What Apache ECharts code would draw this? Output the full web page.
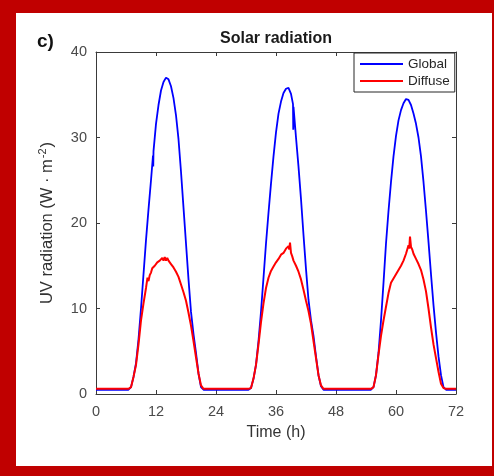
<!DOCTYPE html>
<html>
<head>
<meta charset="utf-8">
<script src="https://cdn.jsdelivr.net/npm/echarts@6/dist/echarts.min.js"></script>
<style>
  html, body { margin: 0; padding: 0; background: #ffffff; }
  #chart { width: 494px; height: 476px; }
</style>
</head>
<body>
<div id="chart"></div>
<script>
// Tick values for both axes
const timeTicks = [0, 12, 24, 36, 48, 60, 72];
const uvTicks = [0, 10, 20, 30, 40];

// Global UV radiation, [time (h), W·m-2]
const globalUV = [
  [0,0.5],[1,0.5],[2,0.5],[3,0.5],[4,0.5],[5,0.5],[6,0.5],[6.5,0.5],
  [7,0.8],[7.5,2.0],[8,3.6],[8.5,6.4],[9,10.0],[9.5,14.0],[10,18.0],[10.5,21.6],
  [11,25.0],[11.4,27.9],[11.45,26.6],[11.5,28.4],[12,31.6],[12.5,33.8],[13,35.5],
  [13.5,36.5],[14,37.0],[14.5,36.8],[15,36.0],[15.5,34.6],[16,32.6],[16.5,29.8],
  [17,26.0],[17.5,21.8],[18,17.6],[18.5,13.4],[19,9.6],[19.5,7.0],[20,4.8],
  [20.5,2.4],[21,0.8],[21.5,0.5],
  [22,0.5],[23,0.5],[24,0.5],[25,0.5],[26,0.5],[27,0.5],[28,0.5],[29,0.5],[30,0.5],[30.5,0.5],
  [31,0.7],[31.5,1.8],[32,3.4],[32.5,6.2],[33,9.6],[33.5,13.6],[34,17.6],[34.5,21.2],
  [35,24.6],[35.5,27.8],[36,30.6],[36.5,32.8],[37,34.2],[37.5,35.2],[38,35.7],
  [38.5,35.8],[39,35.1],[39.4,33.9],[39.45,30.9],[39.5,33.6],[40,30.0],[40.5,26.6],
  [41,22.8],[41.5,18.6],[42,14.6],[42.5,11.0],[43,8.6],[43.5,6.8],[44,4.4],
  [44.5,2.2],[45,0.9],[45.5,0.5],
  [46,0.5],[47,0.5],[48,0.5],[49,0.5],[50,0.5],[51,0.5],[52,0.5],[53,0.5],[54,0.5],[55,0.5],
  [55.5,0.8],[56,2.2],[56.5,4.8],[57,8.6],[57.5,13.0],[58,17.6],[58.5,21.4],[59,24.8],
  [59.5,27.8],[60,30.2],[60.5,32.0],[61,33.2],[61.5,34.0],[62,34.5],[62.5,34.4],
  [63,33.8],[63.5,32.8],[64,31.6],[64.5,30.0],[65,27.8],[65.5,24.8],[66,21.4],
  [66.5,17.8],[67,14.0],[67.5,10.4],[68,7.2],[68.5,4.4],[69,2.2],[69.5,0.8],
  [70,0.5],[71,0.5],[72,0.5]
];

// Diffuse UV radiation, [time (h), W·m-2]
const diffuseUV = [
  [0,0.6],[1,0.6],[2,0.6],[3,0.6],[4,0.6],[5,0.6],[6,0.6],[6.5,0.6],
  [7,0.8],[7.5,2.0],[8,3.4],[8.5,5.8],[9,8.6],[9.5,10.6],[10,12.4],[10.3,13.6],
  [10.5,13.2],[10.75,13.9],[11,14.2],[11.25,14.7],[11.5,14.5],[11.75,15.0],[12,14.9],
  [12.25,15.4],[12.5,15.2],[12.75,15.6],[13,15.4],[13.25,15.9],[13.5,15.6],[13.75,16.0],
  [14,15.6],[14.25,15.9],[14.5,15.6],[14.75,15.5],[15,15.2],[15.25,15.1],[15.5,14.8],
  [16,14.3],[16.5,13.7],[17,12.8],
  [17.5,11.9],[18,10.9],[18.5,9.5],[19,8.0],[19.5,6.2],[20,4.3],[20.5,2.4],
  [21,1.0],[21.5,0.6],
  [22,0.6],[23,0.6],[24,0.6],[25,0.6],[26,0.6],[27,0.6],[28,0.6],[29,0.6],[30,0.6],[30.5,0.6],
  [31,0.7],[31.5,1.8],[32,3.4],[32.5,5.8],[33,8.4],[33.5,10.6],[34,12.4],[34.5,13.6],
  [35,14.4],[35.25,14.3],[35.5,14.9],[35.75,14.8],[36,15.4],[36.25,15.3],[36.5,15.8],
  [36.75,15.7],[37,16.3],[37.25,16.1],[37.5,16.5],[37.75,16.4],[38,17.0],[38.25,16.8],
  [38.5,17.3],[38.65,16.9],[38.8,17.7],[39,16.5],[39.25,16.1],[39.5,15.6],[39.75,15.5],
  [40,15.0],[40.5,14.3],[41,13.4],
  [41.5,12.2],[42,10.9],[42.5,9.7],[43,8.2],[43.5,6.2],[44,4.2],[44.5,2.2],
  [45,1.0],[45.5,0.6],
  [46,0.6],[47,0.6],[48,0.6],[49,0.6],[50,0.6],[51,0.6],[52,0.6],[53,0.6],[54,0.6],[55,0.6],
  [55.5,0.8],[56,2.2],[56.5,4.6],[57,6.8],[57.5,8.6],[58,10.2],[58.5,11.8],[59,13.0],
  [59.25,13.1],[59.5,13.5],[59.75,13.6],[60,14.0],[60.25,14.0],[60.5,14.5],[60.75,14.5],
  [61,15.0],[61.25,15.0],[61.5,15.6],[61.75,15.8],[62,16.4],[62.25,16.5],[62.5,17.4],
  [62.65,17.0],[62.8,18.4],[63,17.2],[63.25,16.9],[63.5,16.4],[63.75,16.2],[64,15.8],
  [64.25,15.6],[64.5,15.2],[65,14.5],[65.5,13.4],
  [66,12.0],[66.5,10.0],[67,7.8],[67.5,5.8],[68,4.2],[68.5,2.6],[69,1.2],[69.5,0.7],
  [70,0.6],[71,0.6],[72,0.6]
];

const FONT = "'Liberation Sans', Arial, Helvetica, sans-serif";
const AXIS_COLOR = '#3a3a3a';
const LABEL_COLOR = '#4a4a4a';
const FRAME_RED = '#c00000';

const chart = echarts.init(document.getElementById('chart'), null, { renderer: 'canvas' });

const tickStyle = { show: true, inside: true, length: 4, lineStyle: { color: AXIS_COLOR, width: 1 } };
const lineStyleAxis = { show: true, onZero: false, lineStyle: { color: AXIS_COLOR, width: 1 } };

chart.setOption({
  animation: false,
  backgroundColor: '#ffffff',
  textStyle: { fontFamily: FONT },
  grid: { left: 96, right: 38, top: 52, bottom: 82, containLabel: false },
  legend: {
    data: ['Global', 'Diffuse'],
    orient: 'vertical',
    left: 354,
    top: 53,
    padding: [4, 5, 4, 6],
    itemGap: 3,
    itemWidth: 43,
    itemHeight: 2,
    icon: 'rect',
    borderColor: '#262626',
    borderWidth: 1,
    backgroundColor: '#ffffff',
    textStyle: { fontFamily: FONT, fontSize: 13.5, color: '#262626', padding: [0, 0, 0, 0] }
  },
  xAxis: [
    {
      type: 'value', position: 'bottom', min: 0, max: 72, interval: 12,
      axisLine: lineStyleAxis, axisTick: tickStyle, splitLine: { show: false },
      axisLabel: {
        color: LABEL_COLOR, fontSize: 14.5, fontFamily: FONT, margin: 10,
        formatter: v => (timeTicks.indexOf(v) >= 0 ? String(v) : '')
      },
      name: 'Time (h)', nameLocation: 'middle', nameGap: 31,
      nameTextStyle: { color: '#333333', fontSize: 16, fontFamily: FONT }
    },
    {
      type: 'value', position: 'top', min: 0, max: 72, interval: 12,
      axisLine: lineStyleAxis, axisTick: tickStyle, splitLine: { show: false },
      axisLabel: { show: false }
    }
  ],
  yAxis: [
    {
      type: 'value', position: 'left', min: 0, max: 40, interval: 10,
      axisLine: lineStyleAxis, axisTick: tickStyle, splitLine: { show: false },
      axisLabel: {
        color: LABEL_COLOR, fontSize: 14.5, fontFamily: FONT, margin: 9,
        formatter: v => (uvTicks.indexOf(v) >= 0 ? String(v) : '')
      },
      name: 'UV radiation (W · m{sup|-2})', nameLocation: 'middle', nameGap: 39,
      nameTextStyle: {
        color: '#333333', fontSize: 16.5, fontFamily: FONT, lineHeight: 20,
        rich: {
          sup: { fontSize: 11, fontFamily: FONT, color: '#333333', verticalAlign: 'top', lineHeight: 20, padding: [0, 1, 0, 1] }
        }
      }
    },
    {
      type: 'value', position: 'right', min: 0, max: 40, interval: 10,
      axisLine: lineStyleAxis, axisTick: tickStyle, splitLine: { show: false },
      axisLabel: { show: false }
    }
  ],
  graphic: [
    // red frame
    { type: 'rect', shape: { x: 0, y: 0, width: 494, height: 13 }, style: { fill: FRAME_RED }, silent: true },
    { type: 'rect', shape: { x: 0, y: 0, width: 16, height: 476 }, style: { fill: FRAME_RED }, silent: true },
    { type: 'rect', shape: { x: 0, y: 466, width: 494, height: 10 }, style: { fill: FRAME_RED }, silent: true },
    { type: 'rect', shape: { x: 492, y: 0, width: 2, height: 476 }, style: { fill: FRAME_RED }, silent: true },
    // panel letter and title
    { type: 'text', x: 37, y: 42, style: { text: 'c)', font: "bold 19px " + FONT, fill: '#111111', textVerticalAlign: 'middle' }, silent: true },
    { type: 'text', x: 276, y: 39, style: { text: 'Solar radiation', font: "bold 16px " + FONT, fill: '#1a1a1a', textAlign: 'center', textVerticalAlign: 'middle' }, silent: true }
  ],
  series: [
    {
      name: 'Global', type: 'line', xAxisIndex: 0, yAxisIndex: 0,
      data: globalUV, symbol: 'none', smooth: false,
      lineStyle: { color: '#0000ff', width: 1.8 }, itemStyle: { color: '#0000ff' }
    },
    {
      name: 'Diffuse', type: 'line', xAxisIndex: 0, yAxisIndex: 0,
      data: diffuseUV, symbol: 'none', smooth: false,
      lineStyle: { color: '#ff0000', width: 2 }, itemStyle: { color: '#ff0000' }
    }
  ]
});
</script>
</body>
</html>
